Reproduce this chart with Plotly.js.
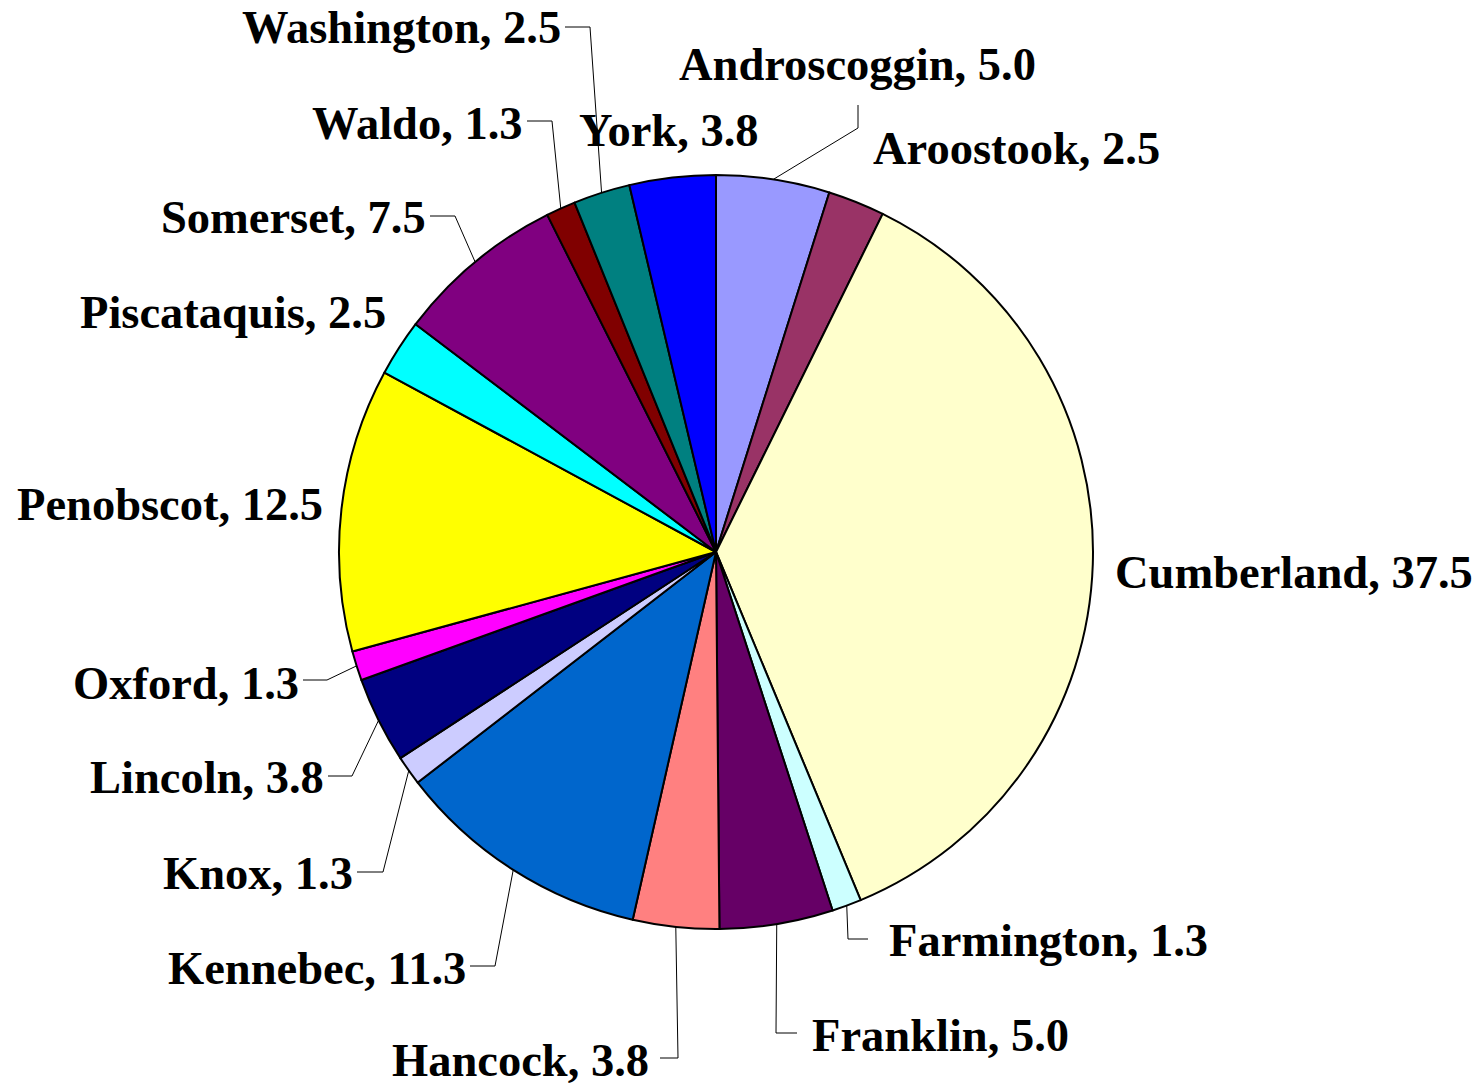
<!DOCTYPE html>
<html>
<head>
<meta charset="utf-8">
<script src="https://cdn.plot.ly/plotly-3.0.1.min.js"></script>
<style>
html,body{margin:0;padding:0;background:#fff;}
#chart{width:1481px;height:1085px;}
</style>
</head>
<body>
<div id="chart"></div>
<script>
// ---- data ----
const counties = ["Androscoggin","Aroostook","Cumberland","Farmington","Franklin","Hancock","Kennebec","Knox","Lincoln","Oxford","Penobscot","Piscataquis","Somerset","Waldo","Washington","York"];
const values = [5.0,2.5,37.5,1.3,5.0,3.8,11.3,1.3,3.8,1.3,12.5,2.5,7.5,1.3,2.5,3.8];
const colors = ["#9999FF","#993366","#FFFFCC","#CCFFFF","#660066","#FF8080","#0066CC","#CCCCFF","#000080","#FF00FF","#FFFF00","#00FFFF","#800080","#800000","#008080","#0000FF"];

// ---- layout (pixel geometry) ----
const W = 1481, H = 1085;
const CX = 716, CY = 552, R = 377;
// label placement: [anchor x, center y, anchor side]
const labelPos = [
  [677, 65, "left"],
  [871, 148, "left"],
  [1113, 572, "left"],
  [887, 940, "left"],
  [810, 1035, "left"],
  [651, 1060, "right"],
  [468, 968, "right"],
  [355, 873, "right"],
  [326, 777, "right"],
  [301, 683, "right"],
  [325, 504, "right"],
  [388, 313, "right"],
  [428, 218, "right"],
  [525, 123, "right"],
  [563, 28, "right"],
  [577, 130, "left"]
];
// leader lines: [elbow x, elbow y, end x, end y] or null
const leaders = [
  [858,128,858,105],
  null,
  null,
  [848,939,868,939],
  [776,1033,797,1033],
  [678,1058,660,1058],
  [495,966,470,966],
  [383,872,357,872],
  [352,776,328,776],
  [327,680,303,680],
  null,
  null,
  [455,216,430,216],
  [552,121,527,121],
  [590,27,565,27],
  null
];

const px = x => x / W;
const py = y => 1 - y / H;

const trace = {
  type: "pie",
  labels: counties,
  values: values,
  sort: false,
  direction: "clockwise",
  rotation: 0,
  marker: {colors: colors, line: {color: "#000000", width: 2}},
  textinfo: "none",
  hoverinfo: "label+value",
  showlegend: false,
  domain: {x: [px(CX - R), px(CX + R)], y: [py(CY + R), py(CY - R)]}
};

const total = values.reduce((a, b) => a + b, 0);
const annotations = [];
const shapes = [];
let cum = 0;
values.forEach((v, i) => {
  const mid = (cum + v / 2) / total * 2 * Math.PI;
  cum += v;
  const [lx, ly, side] = labelPos[i];
  annotations.push({
    xref: "paper", yref: "paper",
    x: px(lx), y: py(ly),
    xanchor: side, yanchor: "middle",
    text: counties[i] + ", " + v.toFixed(1),
    showarrow: false,
    font: {family: "Liberation Serif, Times New Roman, serif", size: 46.5, color: "#000000", weight: "bold"}
  });
  const L = leaders[i];
  if (L) {
    const ex = CX + R * Math.sin(mid), ey = CY - R * Math.cos(mid);
    shapes.push({
      type: "path", xref: "paper", yref: "paper",
      path: `M ${px(ex)} ${py(ey)} L ${px(L[0])} ${py(L[1])} L ${px(L[2])} ${py(L[3])}`,
      line: {color: "#000000", width: 1}
    });
  }
});

const layout = {
  width: W, height: H,
  margin: {l: 0, r: 0, t: 0, b: 0},
  paper_bgcolor: "#ffffff",
  plot_bgcolor: "#ffffff",
  showlegend: false,
  annotations: annotations,
  shapes: shapes
};

Plotly.newPlot("chart", [trace], layout, {displayModeBar: false, staticPlot: true});
</script>
</body>
</html>
